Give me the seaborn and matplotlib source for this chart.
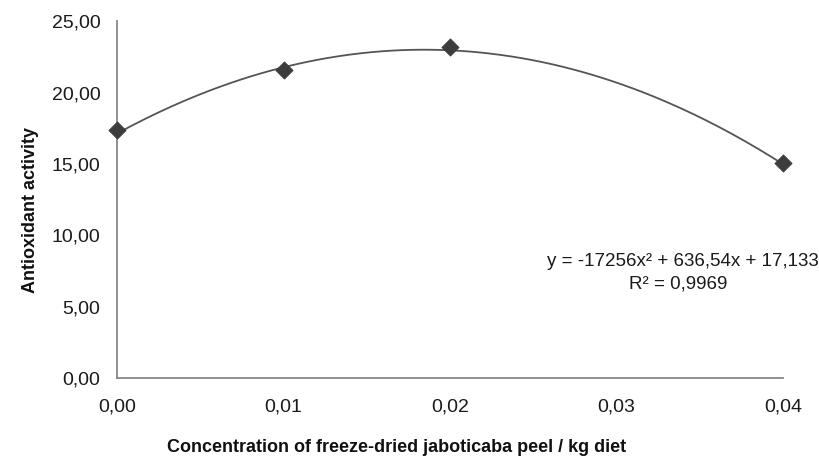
import numpy as np
import pandas as pd
import matplotlib
matplotlib.use("Agg")
import matplotlib.pyplot as plt
import seaborn as sns
from matplotlib.ticker import FuncFormatter

# measured points
concentration = [0.00, 0.01, 0.02, 0.04]
antioxidant = [17.35, 21.57, 23.18, 15.05]

# Excel trendline shown on the chart
trend_coefs = [-17256, 636.54, 17.133]
r_squared = 0.9969

x_ticks = [0.00, 0.01, 0.02, 0.03, 0.04]
y_ticks = [0, 5, 10, 15, 20, 25]


def comma(v, pos=None):
    return f"{v:.2f}".replace(".", ",")


sns.set_style("white")
plt.rcParams["font.family"] = ["Liberation Sans", "DejaVu Sans"]

fig = plt.figure(figsize=(8.19, 4.61), dpi=100)
ax = fig.add_axes([0.143, 0.180, 0.813, 0.774])

xs = np.linspace(0, 0.04, 200)
curve = pd.DataFrame({"x": xs, "y": np.polyval(trend_coefs, xs)})
pts = pd.DataFrame({"x": concentration, "y": antioxidant})

sns.lineplot(data=curve, x="x", y="y", ax=ax, color="#555555", linewidth=1.3)
sns.scatterplot(data=pts, x="x", y="y", ax=ax, marker="D", s=75,
                color="#3c3c3c", edgecolor="#3c3c3c", zorder=5, clip_on=False)

ax.set_xlim(0, 0.04)
ax.set_ylim(0, 25)
ax.set_xticks(x_ticks)
ax.set_yticks(y_ticks)
ax.xaxis.set_major_formatter(FuncFormatter(comma))
ax.yaxis.set_major_formatter(FuncFormatter(comma))
ax.tick_params(axis="y", length=0, pad=12, labelsize=14, labelcolor="#1a1a1a")
ax.tick_params(axis="x", length=0, pad=15, labelsize=14, labelcolor="#1a1a1a")

for s in ["top", "right"]:
    ax.spines[s].set_visible(False)
for s in ["left", "bottom"]:
    ax.spines[s].set_color("#888888")
    ax.spines[s].set_linewidth(1.3)

ax.set_xlabel("")
ax.set_ylabel("Antioxidant activity", fontsize=13, fontweight="bold", color="#111111")
ax.yaxis.set_label_coords(-0.118, 0.47)
fig.text(397 / 819, 1 - 447 / 461, "Concentration of freeze-dried jaboticaba peel / kg diet",
         ha="center", va="center", fontsize=13, fontweight="bold", color="#111111")

eq = "y = -17256x² + 636,54x + 17,133"
fig.text(819 / 819, 1 - 262 / 461, eq, ha="right", va="center", fontsize=13.5, color="#1a1a1a")
fig.text(678 / 819, 1 - 284 / 461, "R² = " + f"{r_squared:.4f}".replace(".", ","),
         ha="center", va="center", fontsize=13.5, color="#1a1a1a")

fig.savefig("out.png", dpi=100)
